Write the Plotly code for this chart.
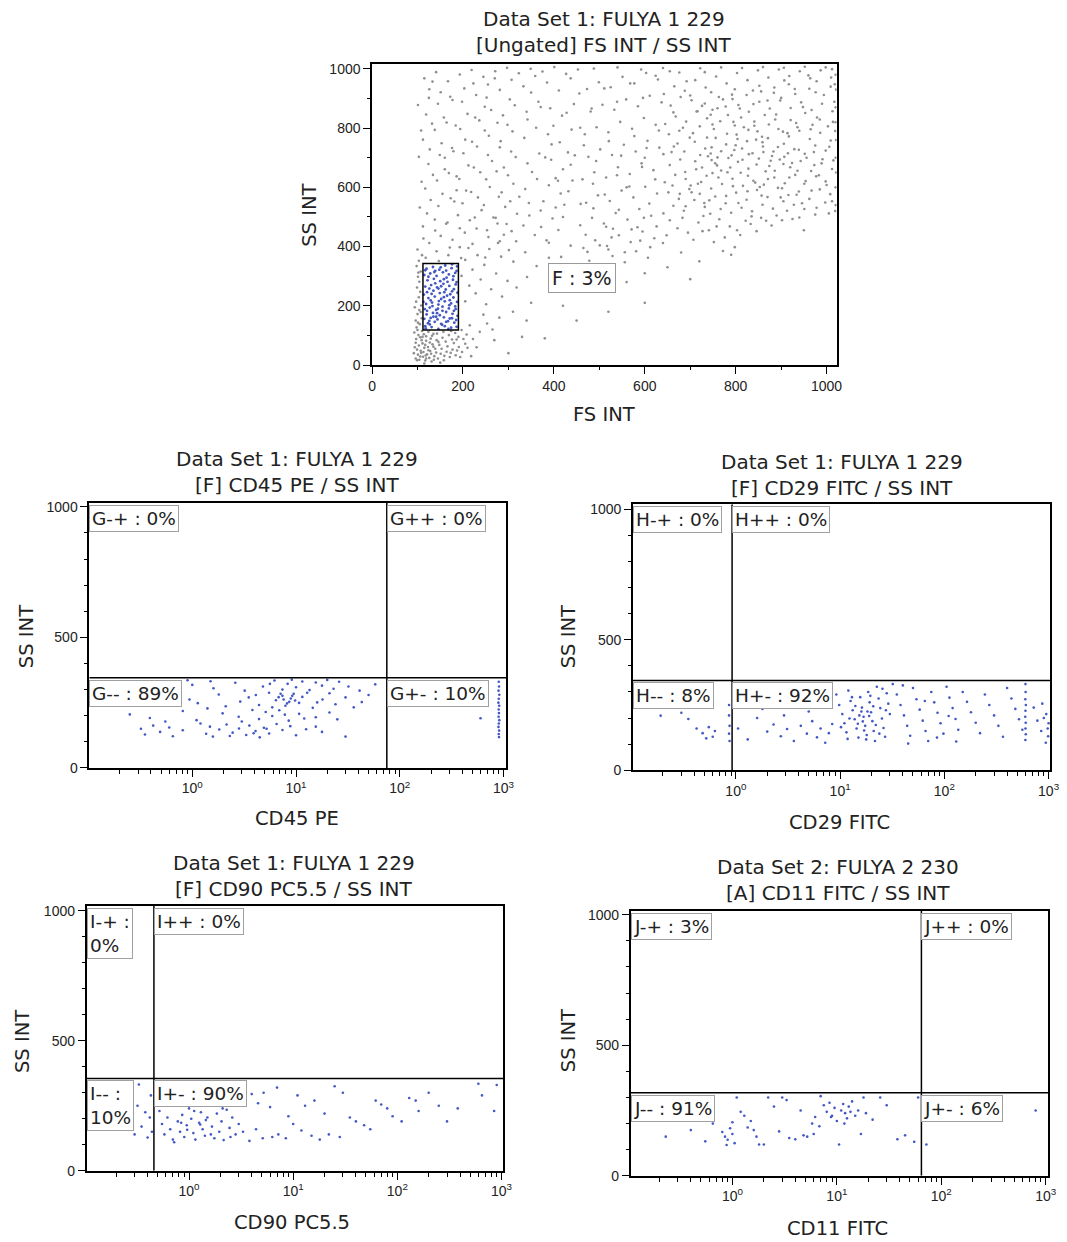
import math
import plotly.graph_objects as go

# ---------------- DATA ----------------
# Panel 1: ungated FS INT / SS INT (grey events) and gate F events (blue)
ungated_grey = [
    (96,22),(101,35),(104,18),(108,41),(112,28),(117,15),(121,36),(126,24),(131,12),(137,30),
    (99,52),(103,66),(107,48),(111,73),(115,58),(119,82),(123,61),(128,47),(133,70),(139,55),
    (97,88),(102,101),(106,94),(110,115),(114,104),(119,97),(124,112),(129,89),(135,105),(142,84),
    (98,127),(101,143),(105,138),(109,158),(100,172),(104,186),(108,201),(97,214),(103,229),(106,247),
    (99,262),(104,281),(101,298),(107,316),(98,334),(103,352),(110,371),(100,390),
    (145,22),(151,38),(158,16),(164,45),(171,27),(177,52),(184,33),(191,61),(198,44),(205,72),
    (148,68),(155,92),(162,79),(169,101),(176,86),(183,108),(190,95),(197,118),(208,103),(215,134),
    (94,60),(93,110),(96,150),(92,40),(115,5),(150,8),(118,32),(127,76),(136,18),(109,84),
    (205,215),(228,242),(251,205),(214,268),(239,289),(262,256),(286,231),(197,301),(221,322),(247,338),
    (273,309),(298,284),(318,262),(341,297),(205,355),(232,371),(258,392),(284,366),(311,349),(337,381),
    (362,334),(389,362),(118,362),(142,384),(168,371),(193,398),(126,412),(151,436),(177,423),(204,447),
    (230,461),(256,432),(281,418),(307,452),(333,471),(358,439),(384,421),(410,456),(437,403),(112,468),
    (138,491),(163,477),(189,506),(215,489),(241,523),(267,498),(293,534),(319,511),(345,547),(371,522),
    (397,495),(423,541),(105,532),(129,557),(155,578),(181,552),(207,589),(233,566),(259,601),(285,583),
    (311,612),(337,594),(363,628),(389,607),(415,579),(441,623),(109,619),(134,642),(160,661),(186,637),
    (212,674),(238,651),(264,689),(290,667),(316,702),(342,681),(368,714),(394,693),(420,661),(446,708),
    (103,703),(127,728),(153,749),(179,722),(205,761),(231,738),(257,774),(283,756),(309,789),(335,767),
    (361,801),(387,779),(413,752),(439,795),(108,792),(132,815),(158,836),(184,809),(210,848),(236,826),
    (262,861),(288,843),(314,877),(340,855),(366,889),(392,867),(418,842),(444,881),(101,878),(125,902),
    (151,921),(177,895),(203,934),(229,912),(255,947),(281,929),(307,963),(333,941),(359,976),(385,954),
    (411,927),(437,968),(115,968),(141,989),(167,958),(193,981),(219,996),(245,973),(271,992),(297,1004),
    (323,985),(349,1000),(375,991),(401,1006),(427,983),(453,998),(212,395),(276,478),(324,568),(395,745),
    (160,700),(248,872),(350,920),(186,590),(290,440),(420,500),
    (452,318),(478,352),(503,331),(529,368),(556,347),(581,384),(607,362),(465,395),(491,421),(517,402),
    (543,438),(569,415),(595,451),(621,428),(458,472),(484,497),(510,478),(536,513),(562,491),(588,527),
    (614,504),(471,548),(497,573),(523,554),(549,589),(575,566),(601,602),(627,579),(463,627),(489,651),
    (515,633),(541,668),(567,645),(593,681),(619,658),(476,703),(502,728),(528,709),(554,744),(580,721),
    (606,757),(632,734),(468,779),(494,803),(520,786),(546,821),(572,798),(598,834),(624,811),(481,856),
    (507,879),(533,862),(559,897),(585,874),(611,909),(637,887),(473,932),(499,955),(525,938),(551,973),
    (577,951),(603,986),(629,964),(488,1001),(540,1005),(592,998),(640,1003),(530,460),(560,600),(600,700),
    (470,440),(590,420),(520,390),(610,545),
    (648,438),(672,462),(695,447),(718,481),(741,455),(764,492),(787,468),(810,439),(833,476),(856,497),
    (879,471),(902,489),(925,493),(655,489),(707,423),(752,415),(798,398),(846,452),(890,505),(940,498),
    (975,508),(1005,512),(683,497),(729,503),(776,431),(822,487),(790,372),(772,385),
    (641,512),(663,538),(686,521),(709,557),(732,534),(755,569),(778,546),(801,582),(824,558),(847,591),
    (870,567),(893,598),(916,574),(939,586),(962,561),(985,593),(1008,577),(652,583),(675,561),(698,594),
    (721,578),(744,511),(767,527),(790,514),(813,531),(836,519),(859,541),(882,528),(905,553),(928,541),
    (951,527),(997,549),(1019,520),
    (644,617),(667,642),(690,628),(713,661),(736,639),(759,674),(782,651),(805,686),(828,663),(851,697),
    (874,672),(897,694),(920,668),(943,689),(966,655),(989,681),(1012,662),(655,675),(678,694),(701,606),
    (724,618),(747,692),(770,611),(793,629),(816,605),(839,622),(862,609),(885,633),(908,614),(931,642),
    (954,621),(977,637),(1000,608),(749,648),(788,667),(827,639),(866,654),(905,679),
    (641,712),(664,738),(687,721),(710,754),(733,731),(756,767),(779,745),(802,778),(825,756),(848,789),
    (871,766),(894,797),(917,772),(940,791),(963,763),(986,784),(1009,758),(653,779),(676,791),(699,768),
    (722,709),(745,714),(768,722),(791,708),(814,731),(837,715),(860,738),(883,721),(906,747),(929,729),
    (952,713),(975,741),(998,724),(760,701),(800,742),(845,761),(880,706),(915,715),(1019,790),
    (645,814),(668,839),(691,822),(714,856),(737,833),(760,867),(783,844),(806,878),(829,855),(852,889),
    (875,866),(898,893),(921,868),(944,887),(967,861),(990,882),(1013,857),(657,876),(703,894),(749,812),
    (795,821),(841,808),(887,829),(933,817),(979,836),(1017,889),(726,875),(772,897),(818,803),(864,844),
    (642,915),(665,941),(688,926),(711,962),(734,937),(757,974),(780,951),(803,986),(826,962),(849,995),
    (872,971),(895,998),(918,976),(941,992),(964,968),(987,995),(1010,971),(676,988),(722,1002),(768,1005),
    (814,1003),(860,1006),(906,1004),(952,1007),(998,1005),(700,910),(746,921),(792,913),(838,927),(884,919),
    (930,932),(976,921),(1018,948),
    (1020,540),(1020,600),(1021,650),(1020,700),(1021,760),(1020,820),(1020,870),(1021,930),(1020,980),
    (230,60),(265,120),(300,40),(340,150),(380,90),(420,200),(450,150),(480,250),(520,180),(560,280),
    (600,210),(650,330),(700,290),(720,350),(400,260),(350,210),(310,180),(280,160),(245,170),(520,300),
    (470,320),(600,310),(680,380),(950,455),(330,95),
    # additional events read from the dense cloud
    (703,583),(717,612),(731,547),(746,596),(762,633),(779,571),(794,604),(811,649),(826,587),(843,616),
    (857,572),(871,628),(886,656),(902,597),(918,633),(934,575),(951,612),(967,589),(983,641),(998,620),
    (711,688),(726,667),(739,705),(755,681),(768,657),(784,699),(797,726),(815,693),(829,712),(846,677),
    (861,719),(877,690),(893,736),(907,703),(924,682),(939,727),(956,700),(972,719),(991,695),(1006,737),
    (706,783),(721,806),(737,768),(752,797),(766,823),(781,781),(798,809),(812,836),(828,794),(841,822),
    (858,771),(873,812),(889,846),(904,788),(921,827),(936,803),(953,851),(969,811),(985,829),(1003,806),
    (716,857),(732,883),(749,862),(763,905),(778,873),(793,898),(809,866),(824,912),(839,881),(856,924),
    (870,893),(885,937),(900,902),(917,948),(931,915),(948,871),(962,933),(978,958),(994,912),(1009,940),
    (661,606),(677,578),(689,652),(659,719),(672,748),(684,801),(663,853),(679,905),(692,958),(655,992),
    (727,452),(758,468),(803,455),(835,502),(867,487),(913,521),(946,546),(978,531),(1012,553),(690,536),
    (742,556),(806,547),(853,601),(899,566),(936,656),(973,675),(1015,691),(747,735),(804,763),(859,752),
    (914,783),(965,796),(1014,821),(745,845),(798,931),(852,943),(907,961),(960,978),(1012,999),(732,989),
    (317,418),(346,505),(372,466),(404,532),(432,587),(459,544),(486,612),(512,576),(539,641),(566,603),
    (594,669),(623,627),(352,652),(381,701),(409,622),(437,676),(466,742),(493,689),(521,756),(548,707),
    (577,773),(604,733),(631,792),(342,829),(371,871),(399,808),(428,852),(456,917),(483,866),(511,934),
    (539,889),(568,951),(596,902),(624,977),(377,553),(404,631),(431,718),(458,801),(487,529),(515,467),
    (543,524),(571,458),(598,497),(626,468),(389,413),(416,365),(443,337),(474,382),(501,404),(527,431),
    (556,381),(584,465),(612,398),(640,412),
    (113,427),(121,512),(117,596),(124,679),(112,761),(119,846),(126,931),(147,351),(139,454),(146,537),
    (143,623),(149,709),(138,794),(145,882),(133,957),(171,397),(166,481),(173,563),(169,648),(176,733),
    (164,819),(172,906),(196,361),(193,462),(199,546),(192,628),(201,715),(194,797),(198,889),(221,409),
    (226,498),(218,584),(224,667),(220,754),(227,836),(223,951),(249,363),(253,455),(246,540),(251,627),
    (255,709),(248,792),(252,903),(277,412),(272,497),(279,568),(274,654),(281,735),(276,818),(270,968),
    (301,388),(296,476),(304,553),(299,641),(306,721),(298,811),(303,897),
    (99,16),(106,29),(113,44),(119,22),(124,50),(130,38),(135,62),(141,42),(146,78),(153,55),
    (159,31),(166,63),(173,41),(180,74),(187,49),(194,27),(201,88),(96,75),(100,118),(94,195),
    (102,312),(107,179),(111,95),(117,68),(132,99),(143,106),(157,112),(174,115),(186,86),(210,58),
    (222,88),(237,112),(253,140),(269,84),(218,30),
]
gate_f_blue = [
    (118,124),(131,128),(146,122),(160,131),(174,126),(186,129),(123,141),(138,146),(152,139),(167,148),
    (181,143),(115,156),(129,159),(144,154),(158,161),(171,157),(185,152),(120,171),(134,176),(149,168),
    (163,179),(177,173),(188,166),(116,189),(127,194),(141,186),(155,197),(169,191),(183,198),(119,206),
    (132,211),(146,204),(160,215),(174,208),(187,213),(124,226),(138,231),(152,223),(165,234),(179,228),
    (114,238),(121,246),(135,251),(149,243),(162,255),(176,249),(188,244),(117,265),(130,270),(143,262),
    (157,274),(170,267),(184,272),(122,286),(136,291),(150,283),(164,295),(178,288),(115,304),(128,309),
    (142,301),(156,313),(169,306),(183,311),(120,325),(134,331),(148,322),(161,336),(175,327),(187,333),
    (127,137),(141,163),(155,183),(129,218),(172,239),(146,258),(158,290),(139,318),(180,183),(113,213),
    (168,122),(186,280),
    (117,131),(126,149),(135,163),(143,175),(154,136),(163,146),(176,158),(184,189),(121,183),(133,199),
    (147,216),(158,229),(171,219),(180,256),(126,258),(139,276),(152,266),(166,281),(179,300),(124,298),
    (137,314),(151,330),(163,319),(176,340),(117,320),(186,318),(145,190),(159,246),(131,240),(170,202),
]
gate_f = {"x0": 112, "x1": 190, "y0": 118, "y1": 343}
gate_f_label = "F : 3%"

# Panel 2: [F] CD45 PE / SS INT
cd45_events = [
    (1.0,318),(1.5,332),(1.6,305),(2.6,326),(4.8,312),(6.2,335),(7.4,300),(8.3,322),(10,309),(11.5,331),
    (13.5,298),(15.5,327),(17.8,315),(23,303),(26,330),(32,312),(41,296),(58,320),(0.6,300),(0.9,336),
    (3.2,296),(5.6,322),(9.1,338),(20,337),(0.45,290),
    (0.94,262),(1.13,248),(1.8,281),(2.1,236),(3.5,270),(4.4,241),(5.5,288),(6.4,259),(7.4,276),(7.9,238),
    (8.9,266),(9.5,284),(10.7,249),(11.5,272),(14.5,230),(18,262),(21,286),(24,244),(30,270),(43,252),
    (50,279),(6.8,271),(7.1,284),(8.2,247),(9.8,258),(5.9,232),(12.8,288),(4.1,279),(16,251),(2.9,254),
    (0.7,275),(1.4,228),(36,232),(7.6,262),(9.2,276),(8.6,253),
    (0.25,205),(0.39,191),(0.81,218),(1.1,183),(1.96,209),(2.8,196),(3.8,222),(4.4,187),(5.1,214),(5.9,199),
    (6.9,221),(8.5,181),(10.7,207),(15.5,194),(21,212),(3.0,178),(7.8,204),(12,189),(0.55,178),(25,186),
    (0.32,150),(0.35,128),(0.42,162),(0.49,138),(0.60,155),(0.65,121),(0.81,144),(1.36,131),(1.48,158),(1.58,120),
    (1.82,147),(2.14,166),(2.45,135),(2.82,151),(3.31,126),(3.55,162),(4.07,141),(4.47,117),(4.9,154),(5.5,132),
    (6.5,168),(7.4,145),(10,125),(15.5,158),(17.8,138),(30,120),(3.9,133),(5.2,150),(2.3,122),(1.2,170),
    (8.8,160),(12.5,148),
    (900,330),(905,312),(895,296),(910,280),(900,265),(892,250),(908,238),(898,224),(903,210),(896,196),
    (910,183),(901,170),(894,157),(906,143),(899,130),(904,118),(600,190),
]
cd45_cut = {"x": 75, "y": 345}
cd45_labels = ["G-+ : 0%", "G++ : 0%", "G-- : 89%", "G+- : 10%"]

# Panel 3: [F] CD29 FITC / SS INT
cd29_events = [
    (0.19,209),(0.35,196),(0.42,160),(0.48,142),(0.55,165),(0.6,128),(0.63,150),(0.52,122),(0.86,250),(0.86,210),
    (0.87,170),(0.86,140),(0.87,112),(0.3,220),
    (1.05,160),(1.3,118),(1.6,200),(2.0,148),(2.3,175),(2.7,130),(3.1,158),(3.6,112),(4.2,170),(4.8,140),
    (5.4,188),(6.0,126),(6.5,160),(7.2,105),(7.8,142),(8.4,177),(1.8,235),(2.9,210),(5.0,225),
    (9.2,290),(9.8,250),(10.5,215),(11,180),(11.5,145),(12,305),(12.6,265),(13.2,230),(13.8,195),(14.4,160),
    (15,125),(15.6,280),(16.2,240),(16.8,205),(17.4,170),(18,135),(18.6,300),(19.2,260),(19.8,222),(20.4,188),
    (21,150),(21.6,112),(22.5,320),(23.4,275),(24.3,238),(25.2,198),(26.1,162),(27,128),(28,295),(29,255),
    (30,215),(10.2,165),(11.8,120),(13,280),(14,246),(15.3,210),(16.5,187),(17,152),(18.3,225),(19.5,285),
    (20.8,245),(22,173),(23.8,140),(25.5,312),(27.5,230),(14.8,178),(16,225),(17.8,118),(12.3,198),(19,208),
    (32,330),(35,290),(38,250),(41,210),(44,170),(47,132),(50,315),(54,272),(58,232),(62,190),
    (66,150),(70,112),(75,300),(80,260),(86,220),(92,180),(98,140),(105,320),(112,278),(120,238),
    (128,196),(136,155),(40,325),(45,102),(65,265),(85,125),(110,208),(130,110),
    (150,300),(165,262),(180,222),(200,182),(220,142),(245,290),(270,250),(300,210),(330,170),(365,128),
    (400,315),(440,275),(480,235),(520,195),(560,155),
    (600,330),(602,300),(598,272),(605,250),(600,228),(597,205),(603,182),(600,160),(604,138),(599,116),
    (720,240),(780,190),(850,150),(900,200),(950,215),(980,160),(1000,180),(990,130),(940,105),(870,255),
]
cd29_cut = {"x": 0.92, "y": 344}
cd29_labels = ["H-+ : 0%", "H++ : 0%", "H-- : 8%", "H+- : 92%"]

# Panel 4: [F] CD90 PC5.5 / SS INT
cd90_events = [
    (0.33,332),(0.32,250),(0.38,225),(0.42,205),(0.35,170),(0.44,150),(0.30,140),(0.40,128),(0.27,190),(0.43,290),
    (0.52,230),(0.55,180),(0.58,140),(0.62,205),(0.66,160),(0.70,120),(0.74,250),(0.78,190),(0.82,150),(0.86,215),
    (0.90,130),(0.95,175),(1.0,240),(1.05,200),(1.1,145),(1.15,120),(1.2,260),(1.25,185),(1.3,225),(1.35,160),
    (1.42,135),(1.5,205),(1.58,250),(1.66,170),(1.75,125),(1.85,220),(1.95,150),(2.05,190),(2.15,118),(2.3,235),
    (2.45,165),(2.6,205),(2.8,140),(3.0,180),(0.6,265),(0.9,280),(1.3,295),(1.7,310),(2.2,275),(2.7,300),
    (0.72,110),(1.12,230),(1.45,195),(1.9,255),(2.5,130),(0.96,158),(1.62,140),(2.1,240),(1.28,178),(0.84,185),
    (3.4,330),(4.0,295),(4.6,260),(5.2,300),(6.0,245),(7.0,320),(3.3,150),(3.8,115),(4.4,160),(5.1,125),
    (6.3,130),(7.2,140),(8.5,125),(10,180),(12,155),(15,135),(18,120),(13,250),(11,290),(16,270),
    (20,220),(9,210),
    (25,325),(30,300),(35,205),(40,190),(48,175),(55,160),(62,270),(70,255),(80,240),(90,210),
    (110,190),(130,280),(150,270),(160,230),(200,300),(250,250),(300,190),(380,240),(600,335),(650,290),
    (900,330),(850,230),(22,140),(28,130),
]
cd90_cut = {"x": 0.46, "y": 355}
cd90_labels = ["I-+ :<br>0%", "I++ : 0%", "I-- :<br>10%", "I+- : 90%"]

# Panel 5: [A] CD11 FITC / SS INT
cd11_events = [
    (0.23,150),(0.4,175),(0.55,132),(0.65,200),(0.8,168),(0.85,150),(0.9,138),(0.95,182),(1.0,160),(1.05,125),
    (0.88,118),(1.0,205),(1.2,245),(1.3,230),(1.5,210),(1.6,175),(1.7,150),(1.4,185),(1.8,120),(2.2,300),
    (2.5,265),(2.8,170),(3.3,290),(3.5,145),(4.0,140),(4.5,250),(4.8,155),(5.2,150),(5.8,200),(6.2,225),
    (6.8,190),(7.5,270),(8.0,245),(8.5,280),(9.0,230),(9.5,260),(10,210),(10.5,120),(11,250),(11.5,275),
    (12,240),(12.5,220),(13,265),(14,285),(15,230),(16,250),(17,160),(18,300),(19,240),(22,215),
    (26,300),(30,270),(38,140),(45,155),(55,130),(60,300),(6.0,160),(8.8,225),(11.8,200),(13.5,245),
    (7,305),(3.0,300),(2.0,120),(1.1,300),
    (72,120),(800,250),
]
cd11_cut = {"x": 64.5, "y": 318}
cd11_labels = ["J-+ : 3%", "J++ : 0%", "J-- : 91%", "J+- : 6%"]

titles = [
    ("Data Set 1: FULYA 1 229", "[Ungated] FS INT / SS INT"),
    ("Data Set 1: FULYA 1 229", "[F] CD45 PE / SS INT"),
    ("Data Set 1: FULYA 1 229", "[F] CD29 FITC / SS INT"),
    ("Data Set 1: FULYA 1 229", "[F] CD90 PC5.5 / SS INT"),
    ("Data Set 2: FULYA 2 230", "[A] CD11 FITC / SS INT"),
]
x_titles = ["FS INT", "CD45 PE", "CD29 FITC", "CD90 PC5.5", "CD11 FITC"]
y_title = "SS INT"
log_tickvals = [1, 10, 100, 1000]
log_ticktext = ["10<sup>0</sup>", "10<sup>1</sup>", "10<sup>2</sup>", "10<sup>3</sup>"]

# ---------------- LAYOUT GEOMETRY ----------------
W, H = 1067, 1242
K = 1.007
def fx(px): return min(px * K / W, 1.0)
def fy(py): return max(1 - py * K / H, 0.0)

TITLE_FONT = "DejaVu Sans"
TICK_FONT = "Liberation Sans"
INK = "#222222"
GREY = "#8f8f8f"
BLUE = "#4358c4"

panels = [
    dict(box=(370, 837, 60, 362), xr=[0, 1022], yr=[0, 1017], log=False,
         title_c=603, title_y=(15, 41), xt=(603, 412), yt=(307, 212)),
    dict(box=(85.7, 505, 500, 766), xr=[-0.993, 3.027], yr=[0, 1016], log=True,
         title_c=295, title_y=(456, 482), xt=(295, 817), yt=(22, 634)),
    dict(box=(632.3, 1051.7, 501.7, 768.3), xr=[-0.987, 3.015], yr=[0, 1019], log=True,
         title_c=842, title_y=(459, 485), xt=(840, 821), yt=(567, 635)),
    dict(box=(83, 502, 904, 1170), xr=[-0.984, 3.018], yr=[0, 1020], log=True,
         title_c=292, title_y=(861, 887), xt=(290, 1222), yt=(18, 1040)),
    dict(box=(630, 1050, 909.3, 1175), xr=[-0.974, 3.026], yr=[0, 1015], log=True,
         title_c=838, title_y=(865, 891), xt=(838, 1228), yt=(567, 1040)),
]

fig = go.Figure()
layout = dict(width=W, height=H, margin=dict(l=0, r=0, t=0, b=0),
              paper_bgcolor="white", plot_bgcolor="white", showlegend=False)
annotations = []
shapes = []

for i, p in enumerate(panels):
    n = "" if i == 0 else str(i + 1)
    xl, xr_, yt_, yb = p["box"]
    xa = dict(domain=[fx(xl), fx(xr_)], anchor="y" + n, range=p["xr"],
              showline=True, linecolor="black", linewidth=1.5, mirror=True,
              ticks="outside", ticklen=7, tickwidth=1.2, tickcolor="black",
              showgrid=False, zeroline=False,
              tickfont=dict(family=TICK_FONT, size=14, color=INK))
    ya = dict(domain=[fy(yb), fy(yt_)], anchor="x" + n, range=p["yr"],
              showline=True, linecolor="black", linewidth=1.5, mirror=True,
              ticks="outside", ticklen=7, tickwidth=1.2, tickcolor="black",
              showgrid=False, zeroline=False,
              tickfont=dict(family=TICK_FONT, size=14, color=INK),
              minor=dict(ticks="outside", ticklen=3, tickwidth=1, tickcolor="black",
                         dtick=100, showgrid=False))
    if p["log"]:
        xa.update(type="log", tickvals=log_tickvals, ticktext=log_ticktext,
                  minor=dict(ticks="outside", ticklen=4, tickwidth=1, tickcolor="black",
                             dtick="D1", showgrid=False))
        ya.update(tickvals=[0, 500, 1000], ticktext=["0", "500", "1000"])
    else:
        xa.update(tickvals=[0, 200, 400, 600, 800, 1000],
                  minor=dict(ticks="outside", ticklen=3, tickwidth=1, tickcolor="black",
                             dtick=100, showgrid=False))
        ya.update(tickvals=[0, 200, 400, 600, 800, 1000])
    layout["xaxis" + n] = xa
    layout["yaxis" + n] = ya

    t1, t2 = titles[i]
    for txt, ty in zip((t1, t2), p["title_y"]):
        annotations.append(dict(text=txt, x=fx(p["title_c"]), y=fy(ty), xref="paper", yref="paper",
                                showarrow=False, xanchor="center", yanchor="middle",
                                font=dict(family=TITLE_FONT, size=20, color=INK)))
    annotations.append(dict(text=x_titles[i], x=fx(p["xt"][0]), y=fy(p["xt"][1]),
                            xref="paper", yref="paper", showarrow=False,
                            xanchor="center", yanchor="middle",
                            font=dict(family=TITLE_FONT, size=19.5, color=INK)))
    annotations.append(dict(text=y_title, x=fx(p["yt"][0]), y=fy(p["yt"][1]),
                            xref="paper", yref="paper", showarrow=False, textangle=-90,
                            xanchor="center", yanchor="middle",
                            font=dict(family=TITLE_FONT, size=19.5, color=INK)))

# ---- Panel 1 traces ----
gx, gy = zip(*ungated_grey)
fig.add_trace(go.Scatter(x=gx, y=gy, mode="markers", xaxis="x", yaxis="y",
                         marker=dict(size=2.6, color=GREY), hoverinfo="skip"))
bx, by = zip(*gate_f_blue)
fig.add_trace(go.Scatter(x=bx, y=by, mode="markers", xaxis="x", yaxis="y",
                         marker=dict(size=2.8, color=BLUE), hoverinfo="skip"))
shapes.append(dict(type="rect", xref="x", yref="y", x0=gate_f["x0"], x1=gate_f["x1"],
                   y0=gate_f["y0"], y1=gate_f["y1"], line=dict(color="black", width=1.5)))
annotations.append(dict(text=gate_f_label, x=461, y=293, xref="x", yref="y", showarrow=False,
                        xanchor="center", yanchor="middle", bgcolor="white",
                        bordercolor="#9a9a9a", borderwidth=1, borderpad=3,
                        font=dict(family=TITLE_FONT, size=19, color=INK)))

# ---- Quadrant panels ----
quad = [
    (cd45_events, cd45_cut, cd45_labels),
    (cd29_events, cd29_cut, cd29_labels),
    (cd90_events, cd90_cut, cd90_labels),
    (cd11_events, cd11_cut, cd11_labels),
]
for k, (events, cut, labels) in enumerate(quad):
    i = k + 1
    n = str(i + 1)
    p = panels[i]
    ex, ey = zip(*events)
    fig.add_trace(go.Scatter(x=ex, y=ey, mode="markers", xaxis="x" + n, yaxis="y" + n,
                             marker=dict(size=2.6, color=BLUE), hoverinfo="skip"))
    xmin, xmax = 10 ** p["xr"][0], 10 ** p["xr"][1]
    ytop = p["yr"][1]
    fig.add_trace(go.Scatter(x=[cut["x"], cut["x"]], y=[0, ytop], mode="lines",
                             xaxis="x" + n, yaxis="y" + n,
                             line=dict(color="black", width=1.5), hoverinfo="skip"))
    fig.add_trace(go.Scatter(x=[xmin, xmax], y=[cut["y"], cut["y"]], mode="lines",
                             xaxis="x" + n, yaxis="y" + n,
                             line=dict(color="black", width=1.5), hoverinfo="skip"))
    lx = [p["xr"][0], math.log10(cut["x"]), p["xr"][0], math.log10(cut["x"])]
    ly = [ytop, ytop, cut["y"], cut["y"]]
    for lab, ax_, ay_ in zip(labels, lx, ly):
        annotations.append(dict(text=lab, x=ax_, y=ay_, xref="x" + n, yref="y" + n,
                                showarrow=False, xanchor="left", yanchor="top", align="left",
                                xshift=0, yshift=-2, bgcolor="white",
                                bordercolor="#a0a0a0", borderwidth=1, borderpad=2,
                                font=dict(family=TITLE_FONT, size=18.5, color=INK)))

layout["annotations"] = annotations
layout["shapes"] = shapes
fig.update_layout(**layout)
fig.write_html("out.html")
